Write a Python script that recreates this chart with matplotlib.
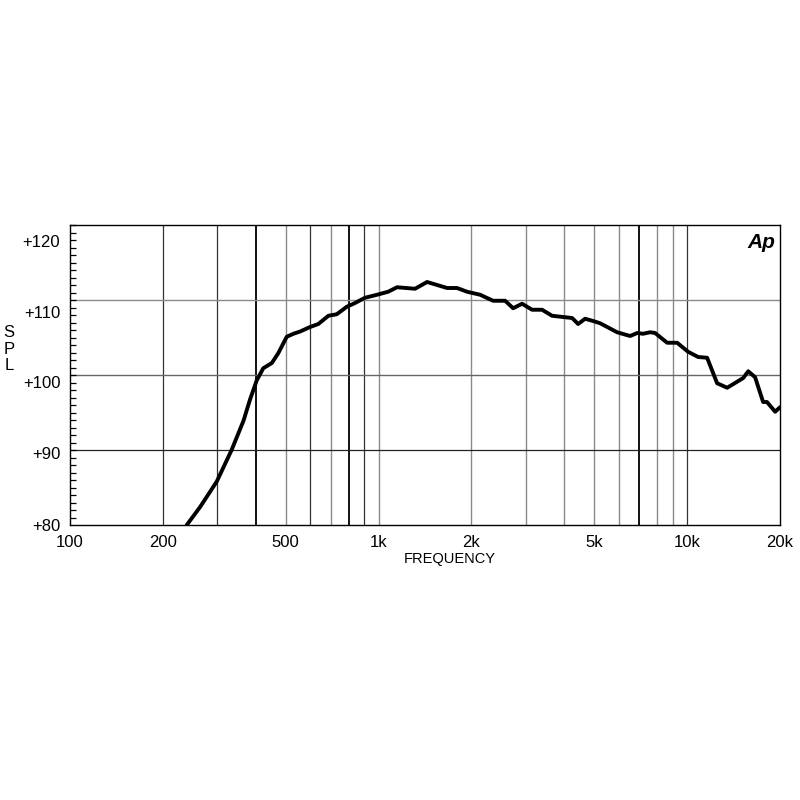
"""
SPL frequency response, Audio Precision style plot.
"""

import matplotlib
matplotlib.use('Agg')
import matplotlib.pyplot as plt
from matplotlib.ticker import FixedLocator, NullFormatter, NullLocator

matplotlib.rcParams['font.family'] = ['Liberation Sans', 'DejaVu Sans']

# ── Data ─────────────────────────────────────────────────────────────────────
freq_hz = [239, 264, 299, 334, 365, 383, 403, 423, 451, 473, 504, 530, 557,
           600, 638, 688, 732, 789, 839, 904, 989, 1074, 1148, 1313, 1436,
           1548, 1667, 1796, 1936, 2134, 2350, 2571, 2730, 2918, 3145, 3388,
           3650, 4023, 4240, 4434, 4670, 4958, 5225, 5930, 6535, 6890, 7197,
           7590, 7875, 8615, 9285, 10070, 10860, 11610, 12510, 13480, 14520,
           15200, 15780, 16610, 17630, 18150, 19290, 20000]
spl_db = [80.0, 82.4, 85.8, 90.0, 93.9, 96.7, 99.3, 100.9, 101.6, 102.9,
          105.1, 105.5, 105.8, 106.4, 106.8, 107.9, 108.1, 109.1, 109.6, 110.3,
          110.7, 111.1, 111.7, 111.5, 112.4, 112.0, 111.6, 111.6, 111.1, 110.7,
          109.9, 109.9, 108.9, 109.5, 108.7, 108.7, 107.9, 107.7, 107.6, 106.8,
          107.5, 107.2, 106.9, 105.7, 105.2, 105.6, 105.5, 105.7, 105.6, 104.3,
          104.3, 103.1, 102.4, 102.3, 98.9, 98.3, 99.1, 99.6, 100.5, 99.7,
          96.4, 96.4, 95.1, 95.7]

x_ticks = [100, 200, 500, 1000, 2000, 5000, 10000, 20000]
x_tick_labels = ['100', '200', '500', '1k', '2k', '5k', '10k', '20k']
y_tick_labels = ['+80', '+90', '+100', '+110', '+120']
# the original prints its dB labels a little below the grid lines
y_label_at = [80.0, 89.6, 99.1, 108.4, 117.9]

# vertical grid lines, grouped by how dark they render
grid_black = [400, 800, 7000]
grid_dark = [200, 300, 600, 900, 10000]
grid_gray = [500, 700, 1000, 2000, 3000, 4000, 5000, 6000, 8000, 9000]


def main():
    fig = plt.figure(figsize=(8, 8), dpi=100)
    fig.patch.set_facecolor('white')
    ax = fig.add_axes([70/800, 275/800, 710/800, 300/800])

    ax.set_xscale('log')
    ax.set_xlim(100, 20000)
    ax.set_ylim(80, 120)

    # grid
    for f in grid_black:
        ax.axvline(f, color='#111111', lw=1.4, zorder=1)
    for f in grid_dark:
        ax.axvline(f, color='#333333', lw=0.9, zorder=1)
    for f in grid_gray:
        ax.axvline(f, color='#8a8a8a', lw=1.0, zorder=1)
    ax.axhline(90, color='#222222', lw=0.9, zorder=1)
    ax.axhline(100, color='#666666', lw=1.0, zorder=1)
    ax.axhline(110, color='#8a8a8a', lw=1.0, zorder=1)

    # curve
    ax.plot(freq_hz, spl_db, color='black', lw=2.8, solid_capstyle='round',
            solid_joinstyle='round', zorder=3)

    # ticks
    ax.xaxis.set_major_locator(FixedLocator(x_ticks))
    ax.set_xticklabels(x_tick_labels)
    ax.xaxis.set_minor_locator(NullLocator())
    ax.xaxis.set_minor_formatter(NullFormatter())
    ax.tick_params(axis='x', which='both', length=0, labelsize=12, pad=7)

    ax.yaxis.set_major_locator(FixedLocator(y_label_at))
    ax.set_yticklabels(y_tick_labels)
    ax.yaxis.set_minor_locator(FixedLocator(list(range(80, 121))))
    ax.tick_params(axis='y', which='major', length=0, labelsize=12, pad=7)
    ax.tick_params(axis='y', which='minor', direction='in', length=4, width=0.9)

    for s in ax.spines.values():
        s.set_color('black')
        s.set_linewidth(1.0)

    # labels
    ax.set_xlabel('FREQUENCY', fontsize=10.5)
    ax.xaxis.set_label_coords((450 - 70) / 710, -0.09)
    fig.text(9/800, 1 - 349/800, 'S\nP\nL', ha='center', va='center',
             fontsize=12, linespacing=1.1)

    # logo
    ax.text(0.993, 0.975, 'Ap', transform=ax.transAxes, ha='right', va='top',
            fontsize=15, fontweight='bold', style='italic')

    fig.savefig('out.png', dpi=100, facecolor='white')
    plt.close(fig)


if __name__ == '__main__':
    main()
